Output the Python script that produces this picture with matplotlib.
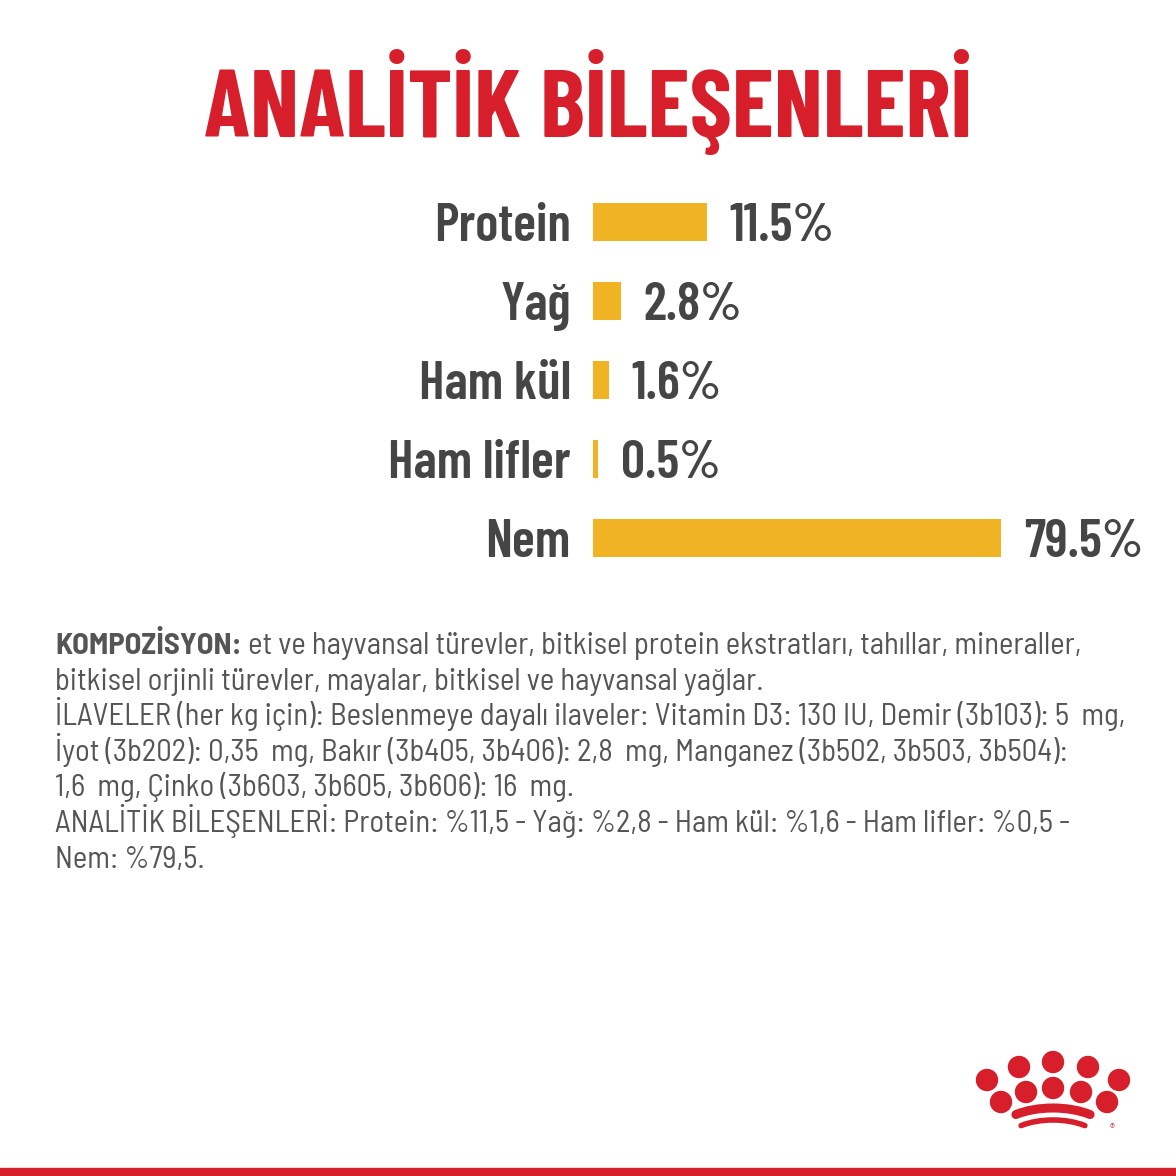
import matplotlib
matplotlib.use("Agg")
import matplotlib.pyplot as plt
from matplotlib.patches import Circle, Arc, Rectangle

categories = ["Protein", "Yağ", "Ham kül", "Ham lifler", "Nem"]
values = [11.5, 2.8, 1.6, 0.5, 79.5]
value_labels = ["11.5%", "2.8%", "1.6%", "0.5%", "79.5%"]

title = "ANALİTİK BİLEŞENLERİ"
comp_bold = "KOMPOZİSYON:"
comp_lines = [
    " et ve hayvansal türevler, bitkisel protein ekstratları, tahıllar, mineraller,",
    "bitkisel orjinli türevler, mayalar, bitkisel ve hayvansal yağlar.",
    "İLAVELER (her kg için): Beslenmeye dayalı ilaveler: Vitamin D3: 130 IU, Demir (3b103): 5  mg,",
    "İyot (3b202): 0,35  mg, Bakır (3b405, 3b406): 2,8  mg, Manganez (3b502, 3b503, 3b504):",
    "1,6  mg, Çinko (3b603, 3b605, 3b606): 16  mg.",
    "ANALİTİK BİLEŞENLERİ: Protein: %11,5 - Yağ: %2,8 - Ham kül: %1,6 - Ham lifler: %0,5 -",
    "Nem: %79,5.",
]

RED = "#d71f2b"
BAR = "#f0b323"
GREY = "#454545"
TXT = "#555555"

TITLE_FONT = ["Barlow Condensed", "DejaVu Sans"]
LABEL_FONT = ["Barlow Condensed", "DejaVu Sans"]
BODY_FONT = ["Barlow Semi Condensed", "DejaVu Sans"]
plt.rcParams["font.family"] = BODY_FONT

W = H = 1176
fig = plt.figure(figsize=(11.76, 11.76), dpi=100)
fig.patch.set_facecolor("white")
r = fig.canvas.get_renderer()


def fit(t, width_px):
    # scale font so text spans the wanted pixel width
    w = t.get_window_extent(renderer=r).width
    t.set_fontsize(t.get_fontsize() * width_px / w)


# bar axes (pixel placement)
left, right, top, bottom = 593, 1001, 182.5, 577.5
ax = fig.add_axes([left / W, 1 - bottom / H, (right - left) / W, (bottom - top) / H])
xmax = 41.2  # Nem bar runs past the axes and gets clipped
ys = list(range(len(categories)))
ax.barh(ys, values, height=0.48, color=BAR, left=0)
ax.set_xlim(0, xmax)
ax.set_ylim(len(categories) - 0.5, -0.5)
ax.set_yticks(ys)
ax.set_yticklabels(categories, fontsize=38.5, fontweight=600, color=GREY, family=LABEL_FONT)
ax.tick_params(axis="y", length=0, pad=16)
ax.set_xticks([])
for s in ax.spines.values():
    s.set_visible(False)
ax.patch.set_alpha(0)

for y, v, lab in zip(ys, values, value_labels):
    ax.annotate(lab, xy=(min(v, xmax), y), xytext=(16.5, 0), textcoords="offset points",
                ha="left", va="center_baseline", fontsize=38.5, fontweight=600, color=GREY,
                family=LABEL_FONT, annotation_clip=False)

tt = fig.text(0.5, 1 - 137 / H, title, ha="center", va="baseline", fontsize=80,
              fontweight="bold", color=RED, family=TITLE_FONT)
fit(tt, 767)

# composition text
fs = 22
x0 = 55 / W
base_first = 654
line_h = 35.6
probe = fig.text(x0, 0.5, comp_lines[2], fontsize=fs, color=TXT)
fit(probe, 1070)
fs = probe.get_fontsize()
probe.remove()

tb = fig.text(x0, 1 - base_first / H, comp_bold, ha="left", va="baseline", fontsize=fs,
              fontweight="bold", color=TXT)
bb = tb.get_window_extent(renderer=r)
fig.text(bb.x1 / W, 1 - base_first / H, comp_lines[0], ha="left", va="baseline",
         fontsize=fs, color=TXT)
for i, line in enumerate(comp_lines[1:], start=1):
    fig.text(x0, 1 - (base_first + i * line_h) / H, line, ha="left", va="baseline",
             fontsize=fs, color=TXT)


# crown logo
def fp(x, y):
    return (x / W, 1 - y / H)


dots = [(987, 1080), (1019, 1067), (1053, 1062), (1088, 1067), (1119, 1080),
        (1001, 1102), (1026, 1092), (1053, 1088), (1081, 1092), (1107, 1102)]
for (cx, cy) in dots:
    fig.patches.append(Circle(fp(cx, cy), 10.5 / W, color=RED, transform=fig.transFigure))
fig.patches.append(Arc(fp(1053, 1136), 2 * 57.7 / W, 2 * 28 / H, theta1=30, theta2=150,
                       color=RED, lw=6.5, transform=fig.transFigure, capstyle="round"))
fig.patches.append(Arc(fp(1053, 1144), 2 * 49.7 / W, 2 * 24 / H, theta1=30, theta2=150,
                       color=RED, lw=4, transform=fig.transFigure, capstyle="round"))
fig.text(1112 / W, 1 - 1129 / H, "®", fontsize=8, color=RED, ha="center", va="center")

# bottom red strip
fig.patches.append(Rectangle((0, 0), 1, 8 / H, color=RED, transform=fig.transFigure))

fig.savefig("out.png", dpi=100)
